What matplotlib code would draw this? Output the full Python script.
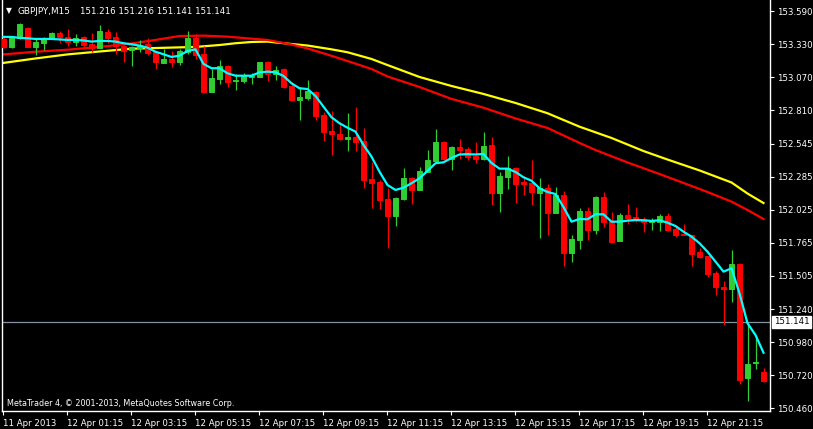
import matplotlib
matplotlib.use("Agg")
import matplotlib.pyplot as plt
import numpy as np

# ---------------- data (GBPJPY M15) ----------------
opens = [153.373, 153.310, 153.377, 153.460, 153.310, 153.344, 153.377, 153.420, 153.389, 153.349,
         153.389, 153.336, 153.304, 153.428, 153.389, 153.315, 153.288, 153.304, 153.333, 153.268,
         153.186, 153.217, 153.193, 153.272, 153.381, 153.254, 152.957, 153.059, 153.160, 153.044,
         153.044, 153.070, 153.075, 153.191, 153.099, 153.136, 153.004, 152.894, 152.907, 152.955,
         152.773, 152.650, 152.624, 152.582, 152.600, 152.568, 152.269, 152.245, 152.111, 151.977,
         152.111, 152.277, 152.182, 152.324, 152.411, 152.563, 152.429, 152.521, 152.505, 152.450,
         152.426, 152.537, 152.158, 152.287, 152.355, 152.245, 152.237, 152.161, 152.198, 152.003,
         152.142, 151.687, 151.790, 152.016, 151.869, 152.126, 151.938, 151.782, 151.985, 151.969,
         151.956, 151.927, 151.932, 151.977, 151.874, 151.835, 151.827, 151.693, 151.661, 151.527,
         151.417, 151.403, 151.598, 150.702, 150.818, 150.747]
highs = [153.385, 153.389, 153.501, 153.465, 153.383, 153.389, 153.424, 153.436, 153.449, 153.415,
         153.396, 153.420, 153.486, 153.449, 153.424, 153.331, 153.317, 153.365, 153.378, 153.276,
         153.291, 153.276, 153.294, 153.436, 153.410, 153.320, 153.134, 153.207, 153.167, 153.094,
         153.102, 153.107, 153.195, 153.199, 153.160, 153.140, 153.031, 152.992, 153.049, 152.959,
         152.799, 152.805, 152.720, 152.789, 152.836, 152.671, 152.405, 152.261, 152.198, 152.123,
         152.358, 152.287, 152.363, 152.497, 152.663, 152.571, 152.527, 152.584, 152.519, 152.560,
         152.639, 152.600, 152.324, 152.450, 152.366, 152.295, 152.421, 152.279, 152.232, 152.208,
         152.176, 151.827, 152.040, 152.048, 152.134, 152.166, 152.008, 152.001, 152.071, 152.048,
         151.967, 151.959, 151.993, 152.001, 151.896, 151.914, 151.829, 151.725, 151.665, 151.543,
         151.464, 151.709, 151.606, 151.123, 151.031, 150.781]
lows = [153.302, 153.302, 153.369, 153.306, 153.246, 153.284, 153.369, 153.339, 153.320, 153.320,
        153.299, 153.272, 153.299, 153.339, 153.258, 153.193, 153.160, 153.270, 153.249, 153.138,
        153.183, 153.154, 153.170, 153.257, 153.217, 152.949, 152.955, 153.020, 152.997, 152.973,
        153.028, 153.020, 153.073, 153.044, 153.051, 152.986, 152.884, 152.734, 152.892, 152.734,
        152.568, 152.458, 152.576, 152.492, 152.492, 152.200, 152.040, 152.032, 151.725, 151.900,
        152.103, 152.071, 152.178, 152.320, 152.407, 152.421, 152.340, 152.426, 152.421, 152.397,
        152.418, 152.066, 152.011, 152.192, 152.082, 152.145, 152.066, 151.806, 151.829, 152.001,
        151.585, 151.617, 151.719, 151.790, 151.837, 151.893, 151.766, 151.780, 151.916, 151.932,
        151.853, 151.866, 151.859, 151.859, 151.811, 151.823, 151.585, 151.643, 151.496, 151.354,
        151.119, 151.298, 150.654, 150.520, 150.773, 150.670]
closes = [153.310, 153.381, 153.489, 153.310, 153.349, 153.381, 153.420, 153.385, 153.352, 153.381,
          153.328, 153.302, 153.436, 153.378, 153.320, 153.280, 153.307, 153.325, 153.264, 153.189,
          153.215, 153.191, 153.278, 153.381, 153.249, 152.957, 153.065, 153.160, 153.036, 153.051,
          153.078, 153.083, 153.191, 153.099, 153.126, 152.994, 152.892, 152.915, 152.963, 152.765,
          152.642, 152.624, 152.582, 152.600, 152.560, 152.261, 152.237, 152.103, 151.977, 152.121,
          152.277, 152.182, 152.332, 152.421, 152.563, 152.426, 152.521, 152.497, 152.442, 152.426,
          152.529, 152.158, 152.292, 152.355, 152.232, 152.232, 152.168, 152.198, 152.003, 152.142,
          151.687, 151.795, 152.016, 151.869, 152.126, 151.932, 151.774, 151.983, 151.961, 151.948,
          151.927, 151.938, 151.977, 151.866, 151.829, 151.825, 151.677, 151.654, 151.522, 151.417,
          151.403, 151.598, 150.684, 150.810, 150.828, 150.676]

# fast moving average (cyan), one value per bar
ma_fast = [153.389, 153.389, 153.381, 153.378, 153.373, 153.373, 153.373, 153.369, 153.365, 153.365,
           153.361, 153.352, 153.357, 153.357, 153.352, 153.339, 153.331, 153.320, 153.304, 153.272,
           153.252, 153.231, 153.241, 153.278, 153.291, 153.176, 153.142, 153.142, 153.102, 153.083,
           153.083, 153.083, 153.109, 153.115, 153.110, 153.081, 153.023, 152.984, 152.978, 152.923,
           152.839, 152.755, 152.708, 152.673, 152.642, 152.537, 152.445, 152.326, 152.221, 152.182,
           152.200, 152.235, 152.274, 152.332, 152.393, 152.400, 152.434, 152.462, 152.464, 152.462,
           152.466, 152.395, 152.350, 152.350, 152.324, 152.282, 152.255, 152.195, 152.166, 152.150,
           152.048, 151.932, 151.953, 151.951, 151.990, 151.990, 151.932, 151.932, 151.940, 151.945,
           151.943, 151.938, 151.943, 151.924, 151.898, 151.853, 151.814, 151.762, 151.695, 151.617,
           151.538, 151.564, 151.367, 151.131, 151.038, 150.899]

# slow moving averages (red and yellow), read at selected bars
ma_red_bars = [0, 4, 8, 12, 16, 19, 22, 25, 28, 31, 33, 36, 38, 41, 43, 46, 48, 52, 56, 60, 64,
               68, 72, 74, 78, 82, 84, 88, 91, 93, 95]
ma_red = [153.251, 153.272, 153.288, 153.310, 153.337, 153.365, 153.396, 153.399, 153.391, 153.375,
          153.365, 153.329, 153.298, 153.240, 153.199, 153.136, 153.077, 152.994, 152.900, 152.831,
          152.746, 152.671, 152.553, 152.497, 152.399, 152.308, 152.261, 152.166, 152.090, 152.024,
          151.953]
ma_yellow_bars = [0, 4, 8, 12, 16, 20, 24, 27, 29, 31, 33, 36, 38, 41, 43, 46, 48, 50, 52, 56, 60,
                  64, 68, 72, 76, 80, 83, 87, 91, 93, 95]
ma_yellow = [153.184, 153.219, 153.251, 153.274, 153.296, 153.303, 153.310, 153.325, 153.339, 153.349,
             153.352, 153.333, 153.321, 153.291, 153.268, 153.215, 153.167, 153.120, 153.073, 153.002,
             152.939, 152.868, 152.787, 152.681, 152.592, 152.489, 152.422, 152.336, 152.241, 152.154,
             152.079]

price_ticks = [153.590, 153.330, 153.070, 152.810, 152.545, 152.285, 152.025,
               151.765, 151.505, 151.240, 150.980, 150.720, 150.460]
time_tick_bars = [0, 8, 16, 24, 32, 40, 48, 56, 64, 72, 80, 88]
time_tick_labels = ["11 Apr 2013", "12 Apr 01:15", "12 Apr 03:15", "12 Apr 05:15", "12 Apr 07:15",
                    "12 Apr 09:15", "12 Apr 11:15", "12 Apr 13:15", "12 Apr 15:15", "12 Apr 17:15",
                    "12 Apr 19:15", "12 Apr 21:15"]
symbol = "GBPJPY,M15"
header_ohlc = ["151.216", "151.216", "151.141", "151.141"]
current_price = 151.141
footer = "MetaTrader 4, \u00a9 2001-2013, MetaQuotes Software Corp."

# ---------------- drawing ----------------
W, H = 813, 429
BULL = "#32CD32"
BEAR = "#FF0000"
fig = plt.figure(figsize=(W / 100, H / 100), dpi=100, facecolor="black")
ax_l, ax_r, ax_t, ax_b = 2, 770, 0, 411
ax = fig.add_axes([ax_l / W, 1 - ax_b / H, (ax_r - ax_l) / W, (ax_b - ax_t) / H])
ax.set_facecolor("black")

o = np.array(opens); h = np.array(highs); l = np.array(lows); c = np.array(closes)
x = np.arange(len(o))
up = c >= o
cols = np.where(up, BULL, BEAR)

ax.vlines(x, l, h, colors=cols, linewidth=0.9, zorder=3)
ax.bar(x, np.abs(c - o), bottom=np.minimum(o, c), width=0.56, color=cols,
       edgecolor=cols, linewidth=0.7, zorder=4)

ax.plot(ma_yellow_bars, ma_yellow, color="#FFFF00", lw=1.6, zorder=2)
ax.plot(ma_red_bars, ma_red, color="#FF0000", lw=1.6, zorder=2)
ax.plot(x, ma_fast, color="#00FFFF", lw=1.6, zorder=5)

ax.axhline(current_price, color="#8391A3", lw=0.9, zorder=1)

# axis limits: pixel mapping
ax.set_xlim(-0.1875, 95.8125)
ax.set_ylim(150.439, 153.680)

for side in ["top"]:
    ax.spines[side].set_visible(False)
for side in ["left", "right", "bottom"]:
    ax.spines[side].set_color("white")
    ax.spines[side].set_linewidth(1.0)

ax.yaxis.tick_right()
ax.set_yticks(price_ticks)
ax.set_yticklabels([f"{p:.3f}" for p in price_ticks])
ax.tick_params(axis="y", colors="white", labelcolor="white", length=3, width=0.8,
               direction="out", pad=2, labelsize=6.2)
for t in ax.get_yticklabels():
    t.set_family("DejaVu Sans")

ax.set_xticks([b - 0.1 for b in time_tick_bars])
ax.set_xticklabels(time_tick_labels)
ax.tick_params(axis="x", colors="white", labelcolor="white", length=3, width=0.8,
               direction="out", pad=2.5, labelsize=6.2)
for t in ax.get_xticklabels():
    t.set_horizontalalignment("left")

# current price label box
ax.annotate("151.141", xy=(1 + 4 / 768, current_price), xycoords=("axes fraction", "data"),
            ha="left", va="center", fontsize=6.2, color="black",
            bbox=dict(boxstyle="square,pad=0.18", fc="white", ec="white"),
            annotation_clip=False, zorder=10)

def fpos(px, py):
    return px / W, 1 - py / H

fig.text(*fpos(6, 11), "\u25bc", color="white", fontsize=5.5, va="center", ha="left")
fig.text(*fpos(18, 11), symbol, color="white", fontsize=6.4, va="center", ha="left")
fig.text(*fpos(80, 11), " ".join(header_ohlc), color="white", fontsize=6.2, va="center", ha="left")
fig.text(*fpos(7, 404), footer, color="white", fontsize=5.8, va="center", ha="left")

fig.savefig("out.png", dpi=100, facecolor="black")
